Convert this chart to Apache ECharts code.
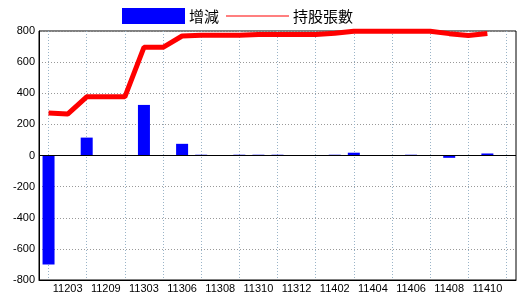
<!DOCTYPE html>
<html><head><meta charset="utf-8">
<script src="https://cdn.jsdelivr.net/npm/echarts@6/dist/echarts.min.js"></script>
<style>html,body{margin:0;padding:0;background:#fff}#c{width:520px;height:300px}</style>
</head><body><div id="c"></div>
<script>
const categories = ['11112','11203','11206','11209','11212','11303','11305','11306','11307','11308','11309','11310','11311','11312','11401','11402','11403','11404','11405','11406','11407','11408','11409','11410'];
const changeValues = [-700,0,115,0,0,325,0,75,5,0,5,5,5,0,0,5,18,0,0,5,0,-15,0,13];
const holdingValues = [273,266,377,377,377,695,695,768,772,772,772,778,778,778,778,785,799,799,799,799,799,783,771,784];
const yTicks = {min:-800, max:800, interval:200};

const chart = echarts.init(document.getElementById('c'), null, {renderer:'canvas'});
chart.setOption({
  animation:false,
  backgroundColor:'#fff',
  legend:{
    left:122, top:8, padding:0, itemWidth:63, itemHeight:16, itemGap:7,
    textStyle:{fontFamily:'Noto Sans CJK TC', fontSize:15, color:'#000', padding:[0,0,0,-1]},
    data:[
      {name:'增減', icon:'rect', itemStyle:{color:'#0000ff'}},
      {name:'持股張數', icon:'path://M0,0 H62 V1 H0 Z', itemStyle:{color:'#ff0000'}}
    ]
  },
  grid:{left:39, top:31, width:477, height:249, show:true, borderColor:'#000', borderWidth:1, containLabel:false},
  xAxis:{
    type:'category', data:categories, boundaryGap:true, max:24,
    axisLine:{onZero:false, lineStyle:{color:'#000', width:1}},
    axisTick:{show:false},
    axisLabel:{interval:(i)=>i%2===1, margin:3, color:'#000', fontFamily:'Liberation Sans', fontSize:11},
    splitLine:{show:true, alignWithLabel:true, interval:(i)=>i%2===0, lineStyle:{color:'#9ab4c8', type:[1,2], width:1}}
  },
  yAxis:{
    type:'value', min:yTicks.min, max:yTicks.max, interval:yTicks.interval,
    axisLine:{show:true, lineStyle:{color:'#000'}},
    axisTick:{show:false},
    axisLabel:{margin:4, color:'#000', fontFamily:'Liberation Sans', fontSize:11},
    splitLine:{show:true, lineStyle:{color:'#999', type:[1,2], width:1}}
  },
  series:[
    {name:'增減', type:'bar', data:changeValues, barWidth:12, itemStyle:{color:'#0000ff'},
     markLine:{silent:true, symbol:'none', label:{show:false}, lineStyle:{color:'#000', type:'solid', width:1}, data:[{yAxis:0}]}},
    {name:'持股張數', type:'line', data:holdingValues, symbol:'none', clip:false, z:3,
     lineStyle:{color:'#ff0000', width:5}, itemStyle:{color:'#ff0000'}}
  ]
});
</script></body></html>
